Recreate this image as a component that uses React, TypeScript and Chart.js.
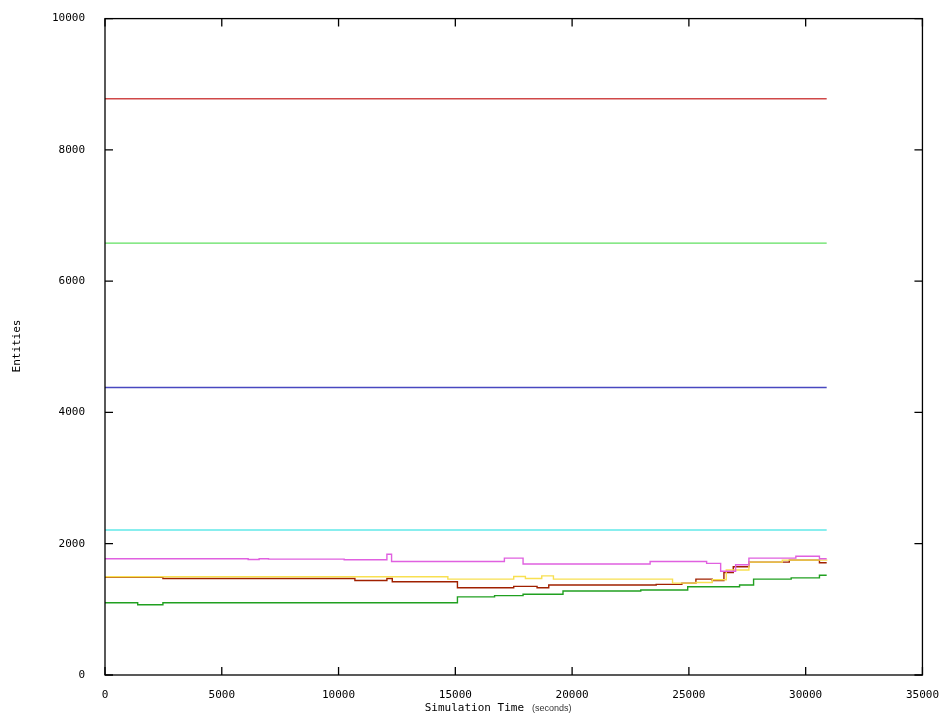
import React, { useEffect, useRef } from "react";
import { Chart, registerables } from "chart.js";
Chart.register(...registerables);

const X_TICKS = [0, 5000, 10000, 15000, 20000, 25000, 30000, 35000];
const Y_TICKS = [0, 2000, 4000, 6000, 8000, 10000];
const END_T = 30900;

const redT = [0, END_T]; const redV = [8780, 8780];
const lgreenT = [0, END_T]; const lgreenV = [6580, 6580];
const blueT = [0, END_T]; const blueV = [4380, 4380];
const cyanT = [0, END_T]; const cyanV = [2210, 2210];
const magT = [0, 6130, 6600, 7000, 10240, 12070, 12270, 17100, 17900, 23340, 25760, 26360, 27000, 27570, 29580, 30590, END_T];
const magV = [1770, 1760, 1770, 1765, 1755, 1840, 1730, 1780, 1690, 1730, 1700, 1580, 1680, 1780, 1810, 1770, 1770];
const yelT = [0, 14680, 17500, 18000, 18700, 19200, 23340, 24300, 25300, 26000, 26600, 27570, 29000, END_T];
const yelV = [1496, 1460, 1500, 1470, 1510, 1460, 1460, 1400, 1410, 1450, 1600, 1720, 1750, 1740];
const brT = [0, 2480, 10700, 12070, 12300, 15090, 17500, 18500, 19000, 20300, 23600, 24700, 25300, 26000, 26500, 26900, 27570, 29300, 30590, END_T];
const brV = [1490, 1470, 1440, 1470, 1420, 1330, 1350, 1330, 1370, 1370, 1380, 1400, 1460, 1440, 1560, 1650, 1720, 1750, 1710, 1710];
const dgT = [0, 1400, 2480, 15090, 16680, 17900, 19610, 22940, 24950, 27170, 27770, 29380, 30590, END_T];
const dgV = [1100, 1070, 1100, 1190, 1210, 1230, 1280, 1295, 1345, 1370, 1460, 1480, 1520, 1520];

const mk = (t: number[], v: number[], c: string) => ({
  data: t.map((x, i) => ({ x, y: v[i] })),
  borderColor: c, borderWidth: 1.4, pointRadius: 0, stepped: true as const, fill: false,
});

const MONO = "'DejaVu Sans Mono', monospace";

export default function App() {
  const ref = useRef<HTMLCanvasElement>(null);
  useEffect(() => {
    const frame = {
      id: "frame",
      afterDraw(ch: any) {
        const { ctx, chartArea: a, scales } = ch;
        ctx.save();
        ctx.strokeStyle = "#000"; ctx.lineWidth = 1.3;
        ctx.strokeRect(a.left, a.top, a.right - a.left, a.bottom - a.top);
        X_TICKS.forEach((t) => {
          const x = scales.x.getPixelForValue(t);
          ctx.beginPath(); ctx.moveTo(x, a.bottom); ctx.lineTo(x, a.bottom - 8);
          ctx.moveTo(x, a.top); ctx.lineTo(x, a.top + 8); ctx.stroke();
        });
        Y_TICKS.forEach((t) => {
          const y = scales.y.getPixelForValue(t);
          ctx.beginPath(); ctx.moveTo(a.left, y); ctx.lineTo(a.left + 8, y);
          ctx.moveTo(a.right, y); ctx.lineTo(a.right - 8, y); ctx.stroke();
        });
        ctx.fillStyle = "#000";
        ctx.font = "11px " + MONO; ctx.textBaseline = "middle"; ctx.textAlign = "right";
        ctx.fillText("Simulation Time", 424 + 100, 708);
        ctx.font = "9px 'Liberation Sans', sans-serif"; ctx.textAlign = "left";
        ctx.fillStyle = "#333"; ctx.fillText("(seconds)", 432 + 100, 709);
        ctx.fillStyle = "#000";
        ctx.font = "11px " + MONO; ctx.textAlign = "center";
        ctx.translate(17, 346); ctx.rotate(-Math.PI / 2); ctx.fillText("Entities", 0, 0);
        ctx.restore();
      },
    };
    const chart = new Chart(ref.current!, {
      type: "line",
      data: {
        datasets: [
          mk(redT, redV, "#d04848"), mk(lgreenT, lgreenV, "#60e060"), mk(blueT, blueV, "#4848c0"),
          mk(cyanT, cyanV, "#60e8e8"), mk(magT, magV, "#e060e0"), mk(yelT, yelV, "#f8e050"),
          mk(brT, brV, "#a02000"), mk(dgT, dgV, "#20a020"),
        ],
      },
      options: {
        animation: false, responsive: false,
        layout: { padding: { top: 18, right: 21, left: 0, bottom: 0 } },
        plugins: { legend: { display: false }, tooltip: { enabled: false } },
        scales: {
          x: {
            type: "linear", min: 0, max: 35000,
            afterBuildTicks: (s: any) => { s.ticks = X_TICKS.map((v) => ({ value: v })); },
            afterFit: (s: any) => { s.height = 42; },
            grid: { display: false }, border: { display: false },
            ticks: { font: { family: MONO, size: 11 }, color: "#000", maxRotation: 0, padding: 6, callback: (v: any) => String(v) },
          },
          y: {
            min: 0, max: 10000,
            afterBuildTicks: (s: any) => { s.ticks = Y_TICKS.map((v) => ({ value: v })); },
            afterFit: (s: any) => { s.width = 105; },
            grid: { display: false }, border: { display: false },
            ticks: { font: { family: MONO, size: 11 }, color: "#000", padding: 12, callback: (v: any) => String(v) },
          },
        },
      },
      plugins: [frame],
    });
    return () => chart.destroy();
  }, []);
  return (
    <div style={{ position: "absolute", left: 0, top: 0, width: 945, height: 717, background: "#fff" }}>
      <canvas ref={ref} width={945} height={717} style={{ width: 945, height: 717 }} />
    </div>
  );
}
